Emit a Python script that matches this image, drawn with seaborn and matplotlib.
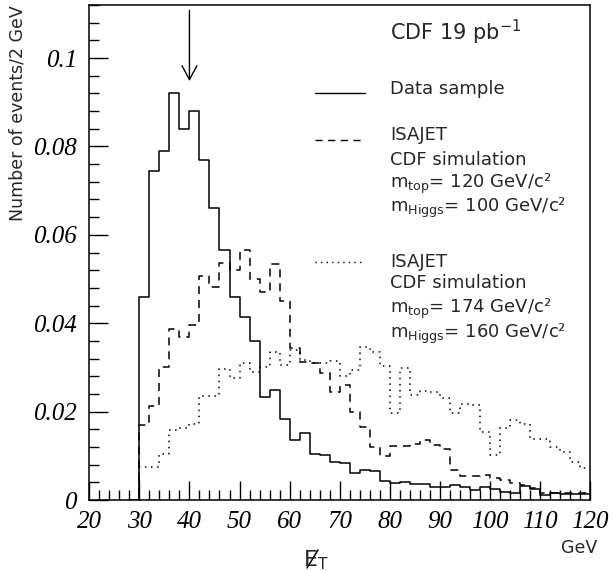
import numpy as np
import pandas as pd
import seaborn as sns
import matplotlib.pyplot as plt
from matplotlib.lines import Line2D

# 2 GeV bins; the first (28-30) is empty so the steps rise from zero at 30 GeV
bin_edges = list(range(28, 122, 2))
bin_centres = list(range(31, 121, 2))

data_sample = [0.046, 0.0744, 0.079, 0.092, 0.084, 0.088, 0.077, 0.066, 0.0566, 0.046,
               0.0415, 0.036, 0.0233, 0.0249, 0.0183, 0.0136, 0.0151, 0.0105, 0.0102, 0.0085,
               0.0083, 0.0062, 0.0068, 0.0066, 0.0044, 0.0039, 0.0041, 0.0036, 0.0036, 0.0029,
               0.0029, 0.0033, 0.0029, 0.0023, 0.0030, 0.0026, 0.0018, 0.0017, 0.0031, 0.0026,
               0.0012, 0.0015, 0.0014, 0.0013, 0.0014]

isajet_120 = [0.017, 0.0213, 0.030, 0.0386, 0.0369, 0.0397, 0.0508, 0.0482, 0.0537, 0.052,
              0.0565, 0.0501, 0.0471, 0.0535, 0.045, 0.0345, 0.0313, 0.031, 0.0288, 0.0245,
              0.026, 0.020, 0.0166, 0.012, 0.010, 0.0123, 0.0123, 0.0126, 0.0135, 0.0125,
              0.0115, 0.0067, 0.0055, 0.0054, 0.0056, 0.005, 0.0045, 0.0039, 0.0035, 0.0027,
              0.0017, 0.0015, 0.0015, 0.0015, 0.0015]

isajet_174 = [0.0074, 0.0074, 0.0104, 0.0158, 0.0162, 0.0171, 0.0236, 0.0236, 0.0296, 0.0276,
              0.031, 0.029, 0.030, 0.0336, 0.0305, 0.034, 0.0316, 0.0309, 0.031, 0.0315,
              0.028, 0.0295, 0.0346, 0.0335, 0.0303, 0.0196, 0.0298, 0.0237, 0.0246, 0.0245,
              0.023, 0.0196, 0.0218, 0.0215, 0.0154, 0.0102, 0.0162, 0.0181, 0.0173, 0.0139,
              0.0139, 0.012, 0.0109, 0.0085, 0.0072]

x_ticks = [20, 30, 40, 50, 60, 70, 80, 90, 100, 110, 120]
y_ticks = [0, 0.02, 0.04, 0.06, 0.08, 0.1]

df = pd.concat([
    pd.DataFrame({"met": bin_centres, "w": data_sample, "sample": "data"}),
    pd.DataFrame({"met": bin_centres, "w": isajet_120, "sample": "mt120"}),
    pd.DataFrame({"met": bin_centres, "w": isajet_174, "sample": "mt174"}),
], ignore_index=True)

sns.set_style("ticks")
plt.rcParams["font.family"] = ["DejaVu Sans"]
plt.rcParams["mathtext.default"] = "regular"

fig = plt.figure(figsize=(6.13, 5.71), dpi=100)
ax = fig.add_axes([0.1457, 0.1243, 0.8168, 0.8669])

dash = (0, (5.2, 3.9))
dots = (0, (1, 3))
styles = {"data": "-", "mt120": dash, "mt174": dots}
for name, ls in styles.items():
    sns.histplot(data=df[df["sample"] == name], x="met", weights="w", bins=bin_edges,
                 element="step", fill=False, color="black", linestyle=ls,
                 linewidth=1.1, ax=ax)

ax.set_xlim(20, 120)
ax.set_ylim(0, 0.112)
ax.set_xlabel("")
ax.set_ylabel("")
ax.set_xticks(x_ticks)
ax.set_xticks(np.arange(20, 121, 2), minor=True)
ax.set_yticks(y_ticks)
ax.set_yticks(np.arange(0, 0.1121, 0.004), minor=True)
ax.set_xticklabels([str(v) for v in x_ticks])
ax.set_yticklabels(["0" if v == 0 else f"{v:g}" for v in y_ticks])
for lab in ax.get_xticklabels() + ax.get_yticklabels():
    lab.set_fontfamily("Liberation Serif")
    lab.set_fontstyle("italic")
    lab.set_fontsize(18)
ax.tick_params(which="major", direction="in", length=14, width=1.0, pad=8, colors="black")
ax.tick_params(which="minor", direction="in", length=7, width=1.0, colors="black")
ax.tick_params(axis="y", pad=9)
for sp in ax.spines.values():
    sp.set_visible(True)
    sp.set_linewidth(1.1)
    sp.set_color("black")

# arrow marking the peak
ax.annotate("", xy=(40, 0.0948), xytext=(40, 0.1108),
            arrowprops=dict(arrowstyle="->,head_length=0.5,head_width=0.27",
                            lw=1.0, color="black", shrinkA=0, shrinkB=0,
                            mutation_scale=20))

# legend block drawn by hand
tx = 0.6006
fs = 13
kw = dict(transform=ax.transAxes, fontsize=fs, va="baseline")
ax.text(tx, 0.929, r"CDF 19 pb$^{-1}$", transform=ax.transAxes, fontsize=15, va="baseline")
ax.plot([0.451, 0.551], [0.8216, 0.8216], transform=ax.transAxes, color="black", lw=1.0)
ax.text(tx, 0.8196, "Data sample", **kw)

ax.plot([0.451, 0.551], [0.7273, 0.7273], transform=ax.transAxes, color="black", lw=1.0,
        linestyle=dash)
ax.text(tx, 0.7273, "ISAJET", **kw)
ax.text(tx, 0.6768, "CDF simulation", **kw)
ax.text(tx, 0.6297, r"m$_{top}$= 120 GeV/c²", **kw)
ax.text(tx, 0.5824, r"m$_{Higgs}$= 100 GeV/c²", **kw)

ax.plot([0.451, 0.551], [0.4814, 0.4814], transform=ax.transAxes, color="black", lw=1.0,
        linestyle=dots)
ax.text(tx, 0.4713, "ISAJET", **kw)
ax.text(tx, 0.4277, "CDF simulation", **kw)
ax.text(tx, 0.3784, r"m$_{top}$= 174 GeV/c²", **kw)
ax.text(tx, 0.3267, r"m$_{Higgs}$= 160 GeV/c²", **kw)

fig.text(18 / 613, 1 - 5 / 571, "Number of events/2 GeV", rotation=90, ha="center", va="top",
         fontsize=12.5)
# missing E_T: an E with a slash through it
fig.text(316 / 613, 1 - 560 / 571, r"E$_T$", ha="center", va="center", fontsize=16)
fig.add_artist(Line2D([307 / 613, 318 / 613], [1 - 568 / 571, 1 - 550 / 571],
                      transform=fig.transFigure, color="black", lw=1.1))
fig.text(597 / 613, 1 - 548 / 571, "GeV", ha="right", va="center", fontsize=12.5)

fig.savefig("out.png", dpi=100)
